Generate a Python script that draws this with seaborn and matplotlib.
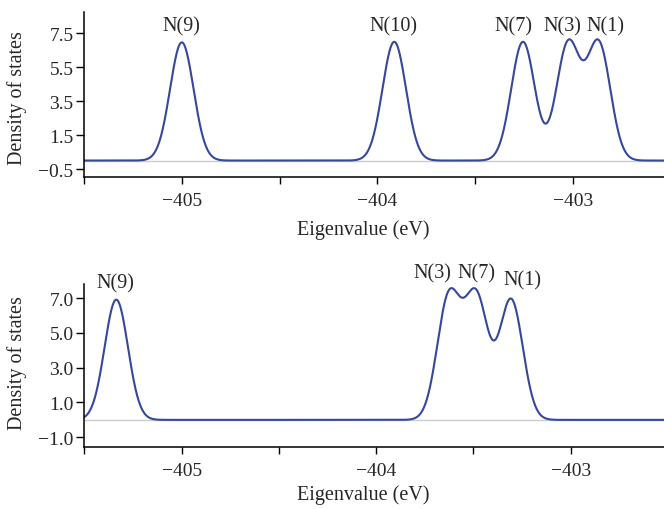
import numpy as np
import pandas as pd
import matplotlib
matplotlib.use("Agg")
import matplotlib.pyplot as plt
import seaborn as sns

# ---- data ----
# top panel: eigenvalues (eV), peak heights and labels
top_levels = [-405.0, -403.914, -403.256, -403.025, -402.869]
top_heights = [6.97, 7.0, 7.0, 6.88, 6.88]
top_labels = ["N(9)", "N(10)", "N(7)", "N(3)", "N(1)"]
top_label_x = [-405.0, -403.92, -403.305, -403.056, -402.834]
top_label_y = [7.93, 7.93, 7.93, 7.93, 7.93]

# bottom panel
bot_levels = [-405.336, -403.626, -403.485, -403.306]
bot_heights = [6.92, 7.03, 6.98, 6.9]
bot_labels = ["N(9)", "N(3)", "N(7)", "N(1)"]
bot_label_x = [-405.339, -403.713, -403.485, -403.25]
bot_label_y = [7.87, 8.44, 8.44, 8.06]

broadening = 0.060  # Gaussian width (eV)

top_yticks = [-0.5, 1.5, 3.5, 5.5, 7.5]
bot_yticks = [-1.0, 1.0, 3.0, 5.0, 7.0]
xticks = [-405.5, -405.0, -404.5, -404.0, -403.5, -403.0]
xticklabels = ["", "\u2212405", "", "\u2212404", "", "\u2212403"]

LINE = "#36479c"
GREY = "#cccccc"

sns.set_style("ticks")
plt.rcParams["font.family"] = ["Liberation Serif", "DejaVu Serif"]
plt.rcParams["axes.unicode_minus"] = True


def dos_frame(levels, heights, xlim):
    e = np.linspace(xlim[0], xlim[1], 3000)
    d = np.zeros_like(e)
    for c, h in zip(levels, heights):
        d += h * np.exp(-(e - c) ** 2 / (2 * broadening ** 2))
    return pd.DataFrame({"Eigenvalue": e, "DOS": d})


fig = plt.figure(figsize=(6.64, 5.10), dpi=100)
ax1 = fig.add_axes([0.1265, 0.6510, 0.8735, 0.3235])
ax2 = fig.add_axes([0.1265, 0.1216, 0.8735, 0.3196])

panels = [
    (ax1, top_levels, top_heights, top_labels, top_label_x, top_label_y,
     (-405.5, -402.535), (-0.97, 8.76), top_yticks, (0.4815, -0.315), 0.482),
    (ax2, bot_levels, bot_heights, bot_labels, bot_label_x, bot_label_y,
     (-405.502, -402.52), (-1.56, 7.82), bot_yticks, (0.4815, -0.288), 0.52),
]

for (ax, lv, hs, labs, lx, ly, xlim, ylim, yt, xlab_pos, ylab_y) in panels:
    df = dos_frame(lv, hs, xlim)
    ax.axhline(0, color=GREY, lw=1.0, zorder=1)
    sns.lineplot(data=df, x="Eigenvalue", y="DOS", ax=ax, color=LINE, lw=1.5, zorder=2)
    for t, x, y in zip(labs, lx, ly):
        ax.text(x, y, t, ha="center", va="center", fontsize=14.5, clip_on=False)
    ax.set_xlim(*xlim)
    ax.set_ylim(*ylim)
    ax.set_yticks(yt)
    ax.set_yticklabels(["{:.1f}".format(v).replace("-", "\u2212") for v in yt])
    ax.set_xticks(xticks)
    ax.set_xticklabels(xticklabels)
    ax.tick_params(axis="y", length=6, width=1.0, pad=1.5, labelsize=14, color="black")
    ax.tick_params(axis="x", length=5, width=1.0, pad=6, labelsize=14, color="black")
    for s in ["top", "right"]:
        ax.spines[s].set_visible(False)
    for s in ["left", "bottom"]:
        ax.spines[s].set_linewidth(1.1)
        ax.spines[s].set_color("black")
    ax.set_xlabel("Eigenvalue (eV)", fontsize=14.5)
    ax.xaxis.label.set_va("center")
    ax.xaxis.set_label_coords(*xlab_pos)
    ax.set_ylabel("Density of states", fontsize=14.5)
    ax.yaxis.label.set_va("center")
    ax.yaxis.set_label_coords(-0.1147, ylab_y)

fig.savefig("out.png", dpi=100)
